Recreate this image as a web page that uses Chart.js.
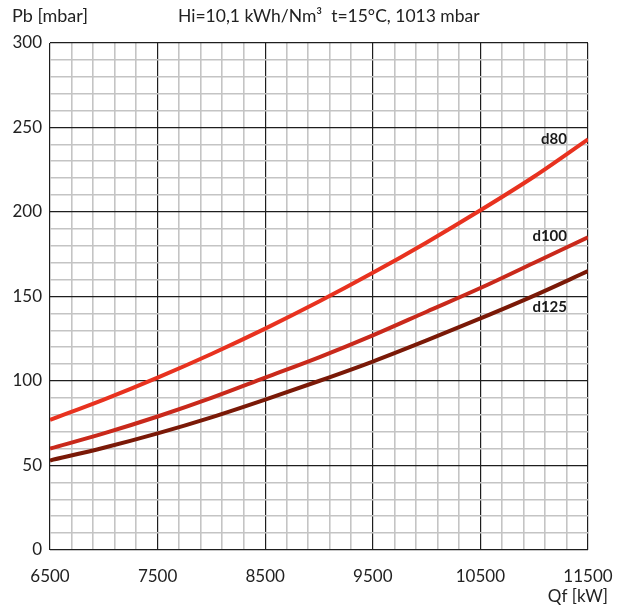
<!DOCTYPE html>
<html>
<head>
<meta charset="utf-8">
<script src="https://cdn.jsdelivr.net/npm/chart.js@4.4.0/dist/chart.umd.min.js"></script>
<style>
  html, body { margin:0; padding:0; background:#fff; }
  #wrap { width:625px; height:609px; position:relative; }
</style>
</head>
<body>
<div id="wrap"><canvas id="chart"></canvas></div>
<script>
// Qf [kW] vs Pb [mbar]
const qf   = [6500, 7000, 7500, 8000, 8500, 9000, 9500, 10000, 10500, 11000, 11500];
const d80  = [77, 89, 102, 116, 131, 147, 164, 182, 201, 221, 243];
const d100 = [60, 69, 79, 90, 102, 114, 127, 141, 155, 170, 185];
const d125 = [53, 60.5, 69, 78.5, 89, 100, 111.5, 124, 137, 150.5, 165];
const seriesNames = ['d80', 'd100', 'd125'];
const xMajor = [6500, 7500, 8500, 9500, 10500, 11500];

const FONT = 'Lato, "Noto Sans", sans-serif';
const colors = ['#e8321f', '#c9291b', '#7a1907'];

function pts(ys){ return qf.map((x, i) => ({ x, y: ys[i] })); }

const textPlugin = {
  id: 'texts',
  afterDraw(chart){
    const { ctx, chartArea, scales } = chart;
    ctx.save();
    ctx.fillStyle = '#222';
    ctx.textBaseline = 'middle';
    ctx.textAlign = 'left';
    ctx.font = '18px ' + FONT;
    ctx.fillText('Pb [mbar]', 12, 16);
    ctx.font = '17.5px ' + FONT;
    ctx.fillText('Hi=10,1 kWh/Nm³  t=15°C, 1013 mbar', 178, 16);
    ctx.textAlign = 'right';
    ctx.font = '17px ' + FONT;
    ctx.fillText('Qf [kW]', 608, 597);

    // curve labels near the right end
    ctx.font = 'bold 15px ' + FONT;
    ctx.fillStyle = '#1a1a1a';
    const offs = [0, -1, 36];
    chart.data.datasets.forEach((ds, i) => {
      const last = ds.data[ds.data.length - 1];
      const px = chartArea.right - 21;
      const py = scales.y.getPixelForValue(last.y) + offs[i];
      ctx.fillText(seriesNames[i], px, py);
    });
    ctx.restore();
  }
};

new Chart(document.getElementById('chart'), {
  type: 'line',
  data: {
    datasets: [d80, d100, d125].map((ys, i) => ({
      label: seriesNames[i],
      data: pts(ys),
      borderColor: colors[i],
      borderWidth: 4,
      pointRadius: 0,
      cubicInterpolationMode: 'monotone',
      fill: false
    }))
  },
  options: {
    responsive: true,
    maintainAspectRatio: false,
    animation: false,
    layout: { padding: { left: 0, right: 37, top: 43, bottom: 0 } },
    plugins: { legend: { display: false }, tooltip: { enabled: false } },
    scales: {
      x: {
        type: 'linear',
        min: 6500, max: 11500,
        afterBuildTicks(s){
          const t = [];
          for (let v = 6500; v <= 11500; v += 200) t.push({ value: v });
          s.ticks = t;
        },
        afterFit(s){ s.height = 59; s.paddingLeft = 0; s.paddingRight = 0; },
        border: { display: false },
        grid: {
          drawTicks: false,
          color: c => xMajor.includes(c.tick.value) ? '#1e1e1e' : '#c4c4c4',
          lineWidth: c => xMajor.includes(c.tick.value) ? 1.2 : 1.6
        },
        ticks: {
          autoSkip: false,
          maxRotation: 0,
          padding: 16,
          color: '#222',
          font: { family: FONT, size: 17 },
          callback: v => xMajor.includes(v) ? String(v) : ''
        }
      },
      y: {
        min: 0, max: 300,
        afterFit(s){ s.width = 50; s.paddingTop = 0; s.paddingBottom = 0; },
        border: { display: false },
        grid: {
          drawTicks: false,
          color: c => c.tick.value % 50 === 0 ? '#1e1e1e' : '#c4c4c4',
          lineWidth: c => c.tick.value % 50 === 0 ? 1.2 : 1.6
        },
        ticks: {
          stepSize: 10,
          autoSkip: false,
          padding: 8,
          color: '#222',
          font: { family: FONT, size: 17 },
          callback: v => v % 50 === 0 ? String(v) : ''
        }
      }
    }
  },
  plugins: [textPlugin]
});
</script>
</body>
</html>
